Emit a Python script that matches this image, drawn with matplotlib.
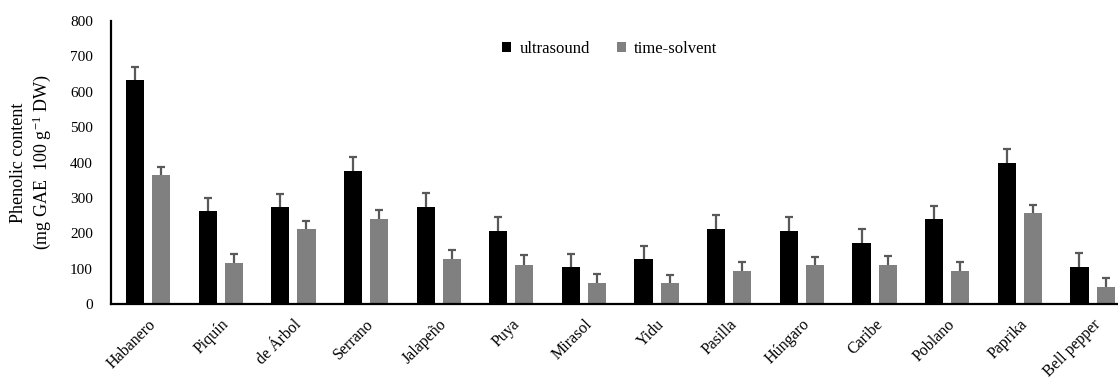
import numpy as np
import matplotlib
matplotlib.use("Agg")
import matplotlib.pyplot as plt

plt.rcParams['font.family'] = ['Liberation Serif', 'DejaVu Serif']
plt.rcParams['mathtext.fontset'] = 'custom'
plt.rcParams['mathtext.rm'] = 'Liberation Serif'
plt.rcParams['mathtext.it'] = 'Liberation Serif:italic'

cultivars = ["Habanero", "Piquín", "de Árbol", "Serrano", "Jalapeño", "Puya",
             "Mirasol", "Yidu", "Pasilla", "Húngaro", "Caribe", "Poblano",
             "Paprika", "Bell pepper"]
ultrasound = [632, 263, 274, 376, 274, 206, 104, 127, 212, 206, 172, 240, 399, 104]
ultrasound_err = [38, 37, 36, 39, 39, 40, 38, 38, 41, 39, 40, 38, 40, 39]
time_solvent = [364, 116, 212, 240, 127, 110, 59, 59, 93, 110, 110, 93, 257, 48]
time_solvent_err = [24, 26, 23, 26, 25, 28, 27, 23, 27, 24, 26, 27, 24, 25]
yticks = [0, 100, 200, 300, 400, 500, 600, 700, 800]

W, H = 1118, 378
fig = plt.figure(figsize=(W / 100, H / 100), dpi=100)
ax = fig.add_axes([111 / W, 74 / H, 1 - 111 / W, (304 - 21) / H])

x = np.arange(len(cultivars))
w = 0.25
off = 0.18


def bars_with_upper_error(xpos, vals, errs, color, label):
    ax.bar(xpos, vals, w, color=color, label=label, zorder=2)
    _, caps, _ = ax.errorbar(xpos, vals, yerr=[np.zeros(len(vals)), errs],
                             fmt='none', ecolor='#595959', elinewidth=1.6,
                             capsize=3, capthick=1.6, zorder=3)
    # only the upper whisker gets a cap
    caps[0].set_visible(False)


bars_with_upper_error(x - off, ultrasound, ultrasound_err, 'black', 'ultrasound')
bars_with_upper_error(x + off, time_solvent, time_solvent_err, '#808080', 'time-solvent')

ax.set_xlim(-0.51, 13.35)
ax.set_ylim(0, 800)
ax.set_yticks(yticks)
ax.set_xticks(x)
ax.set_xticklabels(cultivars, rotation=45, ha='right', rotation_mode='anchor')
ax.tick_params(axis='y', length=0, pad=13, labelsize=11)
ax.tick_params(axis='x', length=0, pad=9, labelsize=11.5)

for s in ['top', 'right']:
    ax.spines[s].set_visible(False)
for s in ['left', 'bottom']:
    ax.spines[s].set_linewidth(1.6)
    ax.spines[s].set_color('black')

ax.set_ylabel("Phenolic content\n(mg GAE  100 g$^{-1}$ DW)", fontsize=13,
              linespacing=1.2)
ax.yaxis.set_label_coords(-58 / (W - 111), 0.5)

fig.legend(loc='center', bbox_to_anchor=(610 / W, 1 - 49 / H),
           ncol=2, frameon=False, fontsize=12, handlelength=0.55,
           handleheight=0.55, handletextpad=0.5, columnspacing=1.6)

fig.savefig("out.png", dpi=100)
